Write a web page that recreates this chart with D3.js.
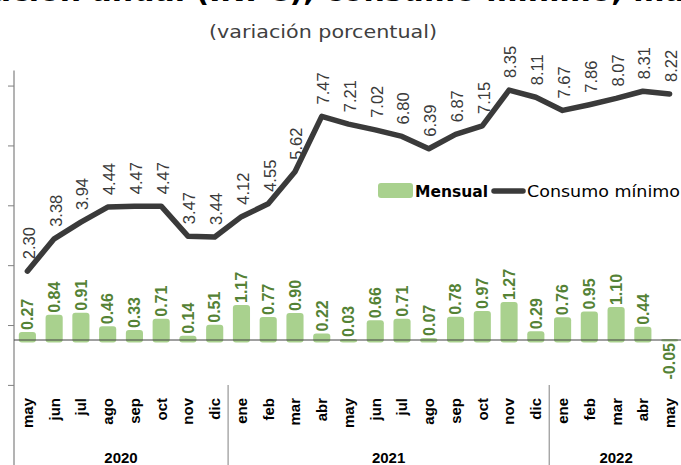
<!DOCTYPE html>
<html>
<head>
<meta charset="utf-8">
<script src="https://cdn.jsdelivr.net/npm/d3@7/dist/d3.min.js"></script>
<style>
  html, body { margin: 0; padding: 0; background: #fff; }
  svg { display: block; }
</style>
</head>
<body>
<div id="chart"></div>
<script>
// ---------- data ----------
const months = ["may","jun","jul","ago","sep","oct","nov","dic",
                "ene","feb","mar","abr","may","jun","jul","ago","sep","oct","nov","dic",
                "ene","feb","mar","abr","may"];
const years = [
  { label: "2020", start: 0, end: 8 },
  { label: "2021", start: 8, end: 20 },
  { label: "2022", start: 20, end: 25 }
];
const mensual = [0.27,0.84,0.91,0.46,0.33,0.71,0.14,0.51,
                 1.17,0.77,0.90,0.22,0.03,0.66,0.71,0.07,0.78,0.97,1.27,0.29,
                 0.76,0.95,1.10,0.44,-0.05];
const consumoMinimo = [2.30,3.38,3.94,4.44,4.47,4.47,3.47,3.44,
                       4.12,4.55,5.62,7.47,7.21,7.02,6.80,6.39,6.87,7.15,8.35,8.11,
                       7.67,7.86,8.07,8.31,8.22];
const yTicks = [-1.5, 0.5, 2.5, 4.5, 6.5, 8.5];
const titleText = "Inflación anual (INPC), consumo mínimo, mayo";
const subtitleText = "(variación porcentual)";
const legendLabels = ["Mensual", "Consumo mínimo"];

// ---------- layout ----------
const W = 681, H = 465;
const svg = d3.select("#chart").append("svg").attr("width", W).attr("height", H);

const x = d3.scaleBand().domain(d3.range(months.length)).range([14, 683])
  .paddingInner(0.36).paddingOuter(0.18);
const y = d3.scaleLinear().domain([-1.5, 9]).range([384.9, 70.6]);

const barColor = "#a9d18e", barLabelColor = "#548235", lineColor = "#3a3a3a";

// title (mostly cut off at top)
svg.append("text").attr("x", 330).attr("y", 1).attr("text-anchor", "middle")
  .attr("font-family", "DejaVu Sans, sans-serif").attr("font-weight", "bold")
  .attr("font-size", 30).attr("fill", "#000").text(titleText);

svg.append("text").attr("x", 323).attr("y", 38).attr("text-anchor", "middle")
  .attr("font-family", "DejaVu Sans, sans-serif").attr("font-size", 18)
  .attr("textLength", 228).attr("lengthAdjust", "spacingAndGlyphs")
  .attr("fill", "#404040").text(subtitleText);

// y axis
const yAxis = d3.axisLeft(y).tickValues(yTicks).tickSize(6).tickFormat("");
const ag = svg.append("g").attr("transform", "translate(14,0)").call(yAxis);
ag.select(".domain").remove();
ag.selectAll(".tick line").attr("stroke", "#808080");
svg.append("line").attr("x1", 14).attr("x2", 14).attr("y1", y(9)).attr("y2", H)
  .attr("stroke", "#808080").attr("stroke-width", 1.2);

// bars
svg.append("g").selectAll("rect").data(mensual).join("rect")
  .attr("x", (d, i) => x(i))
  .attr("width", x.bandwidth())
  .attr("y", d => d >= 0 ? y(d) : y(0) - 1)
  .attr("height", d => Math.abs(y(d) - y(0)) + (d >= 0 ? 2.5 : 1))
  .attr("rx", 3).attr("fill", barColor);

// zero line
svg.append("line").attr("x1", 14).attr("x2", 683).attr("y1", y(0)).attr("y2", y(0))
  .attr("stroke", "#404040").attr("stroke-width", 1);

// bar labels
svg.append("g").selectAll("text").data(mensual).join("text")
  .attr("transform", (d, i) => {
    const cx = x(i) + x.bandwidth() / 2;
    const yy = d >= 0 ? y(d) - 2 : y(0) + 3;
    return `translate(${cx},${yy}) rotate(-90)`;
  })
  .attr("text-anchor", d => d >= 0 ? "start" : "end")
  .attr("dy", "0.36em")
  .attr("font-family", "Liberation Sans, Arial, sans-serif")
  .attr("font-weight", "bold").attr("font-size", 16)
  .attr("fill", barLabelColor)
  .text(d => d.toFixed(2));

// line
const line = d3.line().x((d, i) => x(i) + x.bandwidth() / 2).y(d => y(d));
svg.append("path").datum(consumoMinimo).attr("d", line)
  .attr("fill", "none").attr("stroke", lineColor).attr("stroke-width", 5.5)
  .attr("stroke-linejoin", "round").attr("stroke-linecap", "round");

// line labels
svg.append("g").selectAll("text").data(consumoMinimo).join("text")
  .attr("transform", (d, i) => `translate(${x(i) + x.bandwidth() / 2},${y(d) - 12}) rotate(-90)`)
  .attr("text-anchor", "start").attr("dy", "0.45em")
  .attr("font-family", "Liberation Sans, Arial, sans-serif")
  .attr("font-size", 16.5).attr("fill", lineColor)
  .text(d => d.toFixed(2));

// category labels
svg.append("g").selectAll("text").data(months).join("text")
  .attr("transform", (d, i) => `translate(${x(i) + x.bandwidth() / 2},398) rotate(-90)`)
  .attr("text-anchor", "end").attr("dy", "0.36em")
  .attr("font-family", "Liberation Sans, Arial, sans-serif")
  .attr("font-weight", "bold").attr("font-size", 15).attr("fill", "#000")
  .text(d => d);

// year separators and labels
const step = x.step();
const edge = i => 14 + i * step;
svg.append("g").selectAll("line").data(years.slice(1)).join("line")
  .attr("x1", d => edge(d.start)).attr("x2", d => edge(d.start))
  .attr("y1", 385).attr("y2", H).attr("stroke", "#808080").attr("stroke-width", 1);
svg.append("g").selectAll("text").data(years).join("text")
  .attr("x", d => (edge(d.start) + edge(d.end)) / 2).attr("y", 463)
  .attr("text-anchor", "middle")
  .attr("font-family", "Liberation Sans, Arial, sans-serif")
  .attr("font-weight", "bold").attr("font-size", 15).attr("fill", "#000")
  .text(d => d.label);

// legend
const lg = svg.append("g");
lg.append("rect").attr("x", 378).attr("y", 183).attr("width", 35).attr("height", 15)
  .attr("rx", 3).attr("fill", barColor);
lg.append("text").attr("x", 415).attr("y", 197)
  .attr("font-family", "DejaVu Sans, sans-serif").attr("font-weight", "bold")
  .attr("font-size", 16).attr("textLength", 73).attr("lengthAdjust", "spacingAndGlyphs")
  .attr("fill", "#000").text(legendLabels[0]);
lg.append("line").attr("x1", 494).attr("x2", 523).attr("y1", 191).attr("y2", 191)
  .attr("stroke", lineColor).attr("stroke-width", 5.5).attr("stroke-linecap", "round");
lg.append("text").attr("x", 527).attr("y", 197)
  .attr("font-family", "DejaVu Sans, sans-serif")
  .attr("font-size", 16).attr("textLength", 153).attr("lengthAdjust", "spacingAndGlyphs")
  .attr("fill", "#000").text(legendLabels[1]);
</script>
</body>
</html>
